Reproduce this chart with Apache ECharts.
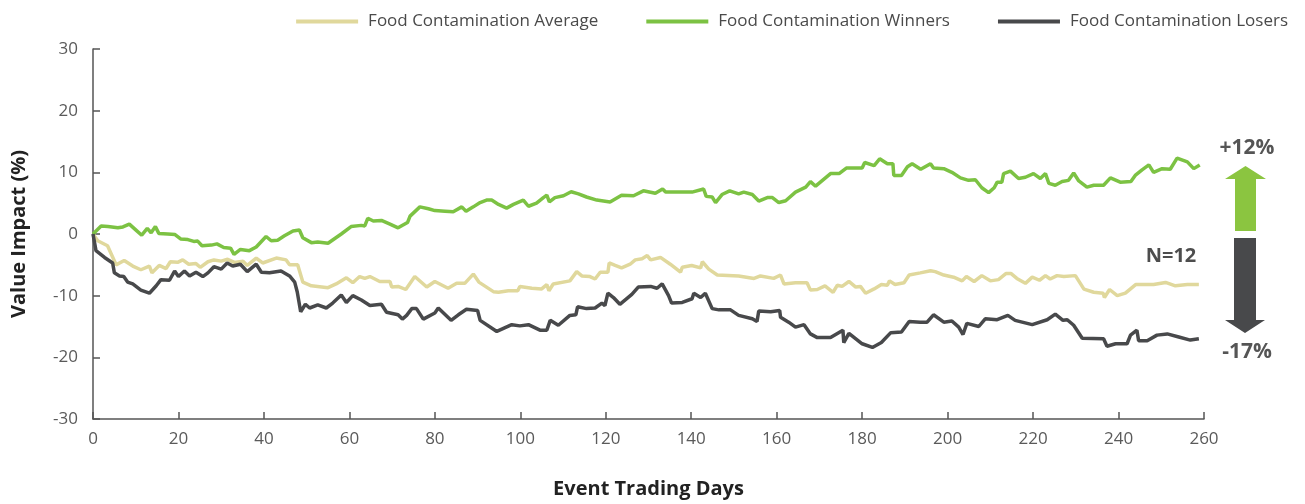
<!DOCTYPE html>
<html>
<head>
<meta charset="utf-8">
<script src="https://cdn.jsdelivr.net/npm/echarts@6/dist/echarts.min.js"></script>
<style>html,body{margin:0;padding:0;background:#fff;}#c{width:1305px;height:504px;}</style>
</head>
<body>
<div id="c"></div>
<script>
const seriesNames = ['Food Contamination Average', 'Food Contamination Winners', 'Food Contamination Losers'];

const winnersDays = [0,1.9,3.5,5.8,7,8.5,10,11.4,12.7,13.6,14.6,15.4,17.5,19.2,20.5,22.2,23.6,24.5,25.5,27.7,29,30.6,32.2,33,34.5,36.6,38.2,40.5,41.7,43.2,44.8,46.8,48.3,49.1,51.1,52.6,55,58.1,60.4,62.8,63.6,64.3,65.6,67.5,69.5,71.4,73.6,74.2,76.5,78.5,80,82.4,84.3,86.3,87.3,89,90.6,92.1,93.3,94.9,96.8,98.4,100.7,101.9,103.8,105.4,106.2,106.8,108.1,110.1,111.9,113.6,115.5,117.9,121,123.7,126.5,128.8,131.6,133.3,134,140.2,142.9,143.5,144.9,145.7,147.2,149,151.1,152.3,154.3,155.8,157.8,159,160.5,162.1,164.4,166.8,167.9,169.1,172.6,174.6,176.3,180,180.6,182.8,184.1,185.9,187.2,187.4,189.2,190.6,191.7,193.7,196,196.7,199.1,201,203,204.9,206.5,208,209.6,210.9,211.6,212.7,213.1,214.7,216.6,218.2,220.1,221.7,222.9,223.7,225.2,226.8,228.3,229.5,230.7,232.6,234.2,236.5,238.1,240.4,242.9,243.9,245.5,247.1,248.2,250.2,252.1,253.7,256.1,257.6,259];
const winnersValues = [0,1.3,1.2,1.0,1.15,1.6,0.67,-0.2,0.9,0.2,1.2,0.1,0,-0.1,-0.8,-0.9,-1.2,-1.15,-1.9,-1.8,-1.6,-2.2,-2.3,-3.3,-2.5,-2.7,-2.1,-0.4,-1.1,-1.0,-0.3,0.5,0.65,-0.6,-1.4,-1.3,-1.5,0,1.2,1.4,1.3,2.55,2.1,2.2,1.6,1.0,1.85,2.9,4.4,4.1,3.8,3.7,3.6,4.4,3.7,4.4,5.1,5.5,5.5,4.8,4.2,4.8,5.5,4.5,5.0,5.9,6.3,5.2,5.9,6.2,6.85,6.5,6.0,5.5,5.2,6.3,6.2,7.0,6.6,7.3,6.8,6.8,7.3,6.1,6.0,5.1,6.4,7.0,6.5,6.8,6.4,5.35,5.9,5.9,5.1,5.4,6.8,7.6,8.5,7.75,9.8,9.8,10.7,10.7,11.6,11.1,12.2,11.4,11.4,9.5,9.5,10.9,11.4,10.5,11.4,10.7,10.6,10.0,9.1,8.7,8.8,7.5,6.7,7.5,8.4,8.4,9.8,10.2,9.0,9.2,9.8,9.0,9.8,8.2,7.9,8.5,8.7,9.9,8.6,7.6,7.9,7.9,9.1,8.4,8.5,9.5,10.4,11.2,10.0,10.6,10.5,12.3,11.7,10.6,11.2];

const averageDays = [0,1.1,3.4,5.4,7.3,9.3,11.2,13.2,13.8,15.5,17.1,18.1,19.8,21,22.4,24.1,25.1,26.9,28.3,30,31.5,33.1,35.1,36.1,38.2,39.7,42.9,45.2,46,47.9,49.1,51.1,55,56.9,59.3,60.8,62.4,63.6,64.8,67.1,69.5,69.9,71.4,73.2,75.3,78.1,80,83.1,85.1,87,89,90.3,93.7,94.9,97.2,99.4,99.9,102.7,105,106.2,106.7,107.7,111.6,113.2,114.4,116.3,117.5,118.7,120.5,120.8,122.2,123.7,125.7,126.9,128.5,129.7,130.5,132.8,135.1,137.5,137.9,140.1,142.2,142.6,144.1,146.1,151.1,154.7,156.2,159.3,160.9,161.7,164.4,167.1,167.9,169.5,171.3,173.2,174.2,175.3,176.9,178.5,179.6,180.8,182.8,184.5,185.9,186.4,187.7,189.8,191,193.6,196,197.1,199.1,201.4,203.4,204.4,206.2,208,210,211.9,213.7,214.8,216.2,218.2,219.8,221.5,222.9,224,225.6,227.2,229.9,231.9,234.2,236.4,236.7,237.9,239.7,241.6,244,248.2,251,253.3,256.1,258.8];
const averageValues = [0,-1.1,-1.9,-5.0,-4.3,-5.2,-5.8,-5.2,-6.3,-5.1,-5.6,-4.5,-4.6,-4.2,-4.9,-4.8,-5.4,-4.5,-4.2,-4.4,-4.1,-4.6,-4.4,-5.1,-3.9,-4.7,-3.9,-4.2,-5.0,-5.0,-7.8,-8.4,-8.7,-8.1,-7.1,-7.9,-6.9,-7.2,-6.9,-7.7,-7.7,-8.6,-8.5,-9.0,-6.9,-8.6,-7.7,-8.8,-8.0,-8.0,-6.5,-7.8,-9.35,-9.45,-9.2,-9.2,-8.5,-8.8,-8.9,-8.2,-9.2,-8.1,-7.6,-6.1,-6.8,-6.9,-7.3,-6.2,-6.2,-4.7,-5.1,-5.5,-4.9,-4.2,-4.0,-3.5,-4.2,-3.8,-4.9,-6.2,-5.4,-5.1,-5.5,-4.5,-5.7,-6.65,-6.8,-7.2,-6.8,-7.2,-6.65,-8.1,-7.9,-7.9,-9.1,-9.0,-8.4,-9.45,-8.3,-8.5,-7.7,-8.6,-8.5,-9.6,-8.9,-8.2,-8.3,-7.6,-8.2,-7.9,-6.65,-6.3,-5.95,-6.1,-6.65,-7.0,-7.6,-6.9,-7.7,-6.75,-7.6,-7.4,-6.4,-6.4,-7.2,-8.0,-7.0,-7.5,-6.75,-7.3,-6.75,-6.9,-6.75,-8.95,-9.45,-9.6,-10.3,-9.0,-10.0,-9.6,-8.2,-8.2,-7.85,-8.4,-8.2,-8.2];

const losersDays = [0,0.7,2.7,4.6,5.0,6.2,7.2,8.1,9.3,11.2,13.2,14.8,15.9,17.9,19.1,20,21.4,22.6,24.1,25.7,26.9,28.3,30,31.4,32.7,34.5,36.1,38.2,39.4,41.3,44,46,47.2,47.8,48.6,49.7,50.7,52.6,54.6,56.1,58.1,59.3,60.8,62.8,64.8,67.5,68.7,71.4,72.4,73.4,74.6,75.7,77.3,80,80.8,83.8,85.5,87.4,90,90.6,94.5,98,99.9,101.9,104.6,106.2,107,108.9,111.6,113,113.4,115.5,117.5,119.1,119.8,120.5,121.8,123.3,126.1,127.6,130.5,132,133.2,134.7,135.4,137.9,140.2,140.6,142.2,143.3,144.9,146.5,149.2,151.1,154.3,155.4,155.8,158.6,160.7,160.9,162.8,164.4,166.4,167.9,169.5,172.6,175.5,175.7,176.9,180,182.4,184.5,186.7,189.2,191,193.6,195.2,196.7,199.1,201,202.6,203.6,204.5,207.3,208.8,211.6,214.1,215.8,219.8,223.3,225.2,227,228,229.5,231.5,236.5,237.3,239.3,242,242.8,244.3,244.7,246.7,249,251.4,254.1,256.8,258.8];
const losersValues = [0,-2.7,-3.8,-4.7,-6.3,-6.8,-6.9,-7.8,-8.1,-9.1,-9.6,-8.4,-7.4,-7.5,-6.0,-6.9,-6.0,-6.8,-6.2,-6.9,-6.3,-5.3,-5.7,-4.7,-5.2,-4.9,-6.1,-4.9,-6.2,-6.3,-6.0,-6.8,-7.8,-9.4,-12.6,-11.4,-12.0,-11.5,-12.0,-11.2,-9.9,-11.1,-10.0,-10.7,-11.6,-11.4,-12.7,-13.1,-13.8,-13.2,-12.1,-12.1,-13.8,-12.8,-12.0,-14.0,-13.1,-12.2,-12.4,-14.0,-15.8,-14.7,-14.9,-14.7,-15.6,-15.6,-14.0,-14.8,-13.2,-13.1,-11.8,-12.1,-12.0,-11.2,-11.6,-9.6,-10.3,-11.4,-9.8,-8.6,-8.5,-8.8,-8.1,-10.0,-11.2,-11.1,-10.5,-9.6,-10.3,-9.6,-12.1,-12.3,-12.3,-13.2,-13.75,-14.2,-12.5,-12.6,-12.4,-13.5,-14.3,-15.1,-14.7,-16.2,-16.8,-16.8,-15.6,-17.6,-16.1,-17.8,-18.4,-17.6,-16.0,-15.9,-14.2,-14.3,-14.3,-13.1,-14.3,-14.1,-15.1,-16.3,-14.5,-15.0,-13.75,-13.9,-13.2,-14.0,-14.7,-13.9,-13.0,-14.0,-13.9,-14.8,-16.9,-17.0,-18.2,-17.8,-17.8,-16.4,-15.6,-17.3,-17.3,-16.4,-16.2,-16.7,-17.2,-17.0];

const xTicks = { min: 0, max: 260, interval: 20 };
const yTicks = { min: -30, max: 30, interval: 10 };
const annotationLabels = { up: '+12%', down: '-17%', n: 'N=12' };

function pairs(xs, ys) { return xs.map((x, i) => [x, ys[i]]); }

const FONT = '"Open Sans", sans-serif';
const chart = echarts.init(document.getElementById('c'), null, { renderer: 'canvas' });
const axisColor = '#555555';
const labelColor = '#5a5a5a';

chart.setOption({
  animation: false,
  backgroundColor: '#ffffff',
  textStyle: { fontFamily: FONT },
  grid: { left: 93, right: 101, top: 49, bottom: 83, containLabel: false },
  legend: {
    right: 12, top: 8,
    icon: 'rect', itemWidth: 62, itemHeight: 4, itemGap: 48,
    textStyle: { fontFamily: FONT, fontSize: 17, color: '#4a4a4a', padding: [0, 0, 0, 5] },
    data: seriesNames
  },
  xAxis: {
    type: 'value', min: xTicks.min, max: xTicks.max, interval: xTicks.interval,
    name: 'Event Trading Days', nameLocation: 'middle', nameGap: 60,
    nameTextStyle: { fontFamily: FONT, fontSize: 20, fontWeight: 'bold', color: '#222' },
    axisLine: { show: true, onZero: false, lineStyle: { color: axisColor, width: 1.5 } },
    axisTick: { show: true, inside: true, length: 7, lineStyle: { color: axisColor, width: 1.5 } },
    axisLabel: { fontFamily: FONT, fontSize: 17, color: labelColor, margin: 12 },
    splitLine: { show: false }
  },
  yAxis: {
    type: 'value', min: yTicks.min, max: yTicks.max, interval: yTicks.interval,
    name: 'Value Impact (%)', nameLocation: 'middle', nameGap: 64, nameRotate: 90,
    nameTextStyle: { fontFamily: FONT, fontSize: 20, fontWeight: 'bold', color: '#222' },
    axisLine: { show: true, onZero: false, lineStyle: { color: axisColor, width: 1.5 } },
    axisTick: { show: true, inside: true, length: 7, lineStyle: { color: axisColor, width: 1.5 } },
    axisLabel: { fontFamily: FONT, fontSize: 17, color: labelColor, margin: 15 },
    splitLine: { show: false }
  },
  series: [
    { name: seriesNames[0], type: 'line', data: pairs(averageDays, averageValues), showSymbol: false, symbol: 'none',
      lineStyle: { color: '#e0d89c', width: 3.5 }, itemStyle: { color: '#e0d89c' } },
    { name: seriesNames[1], type: 'line', data: pairs(winnersDays, winnersValues), showSymbol: false, symbol: 'none',
      lineStyle: { color: '#7cc243', width: 3.5 }, itemStyle: { color: '#7cc243' } },
    { name: seriesNames[2], type: 'line', data: pairs(losersDays, losersValues), showSymbol: false, symbol: 'none',
      lineStyle: { color: '#48494b', width: 3.5 }, itemStyle: { color: '#48494b' } }
  ],
  graphic: [
    { type: 'polygon', shape: { points: [[1245.5,166],[1266,179],[1256,179],[1256,231],[1235,231],[1235,179],[1225,179]] }, style: { fill: '#8bc540' } },
    { type: 'polygon', shape: { points: [[1234,238],[1256,238],[1256,320],[1265,320],[1245,333],[1225,320],[1234,320]] }, style: { fill: '#48494b' } },
    { type: 'text', x: 1247, y: 148, style: { text: annotationLabels.up, font: 'bold 21px "Open Sans", sans-serif', fill: '#555', align: 'center', verticalAlign: 'middle' } },
    { type: 'text', x: 1247, y: 352, style: { text: annotationLabels.down, font: 'bold 21px "Open Sans", sans-serif', fill: '#555', align: 'center', verticalAlign: 'middle' } },
    { type: 'text', x: 1171, y: 256, style: { text: annotationLabels.n, font: 'bold 20px "Open Sans", sans-serif', fill: '#4d4d4d', align: 'center', verticalAlign: 'middle' } }
  ]
});
</script>
</body>
</html>
